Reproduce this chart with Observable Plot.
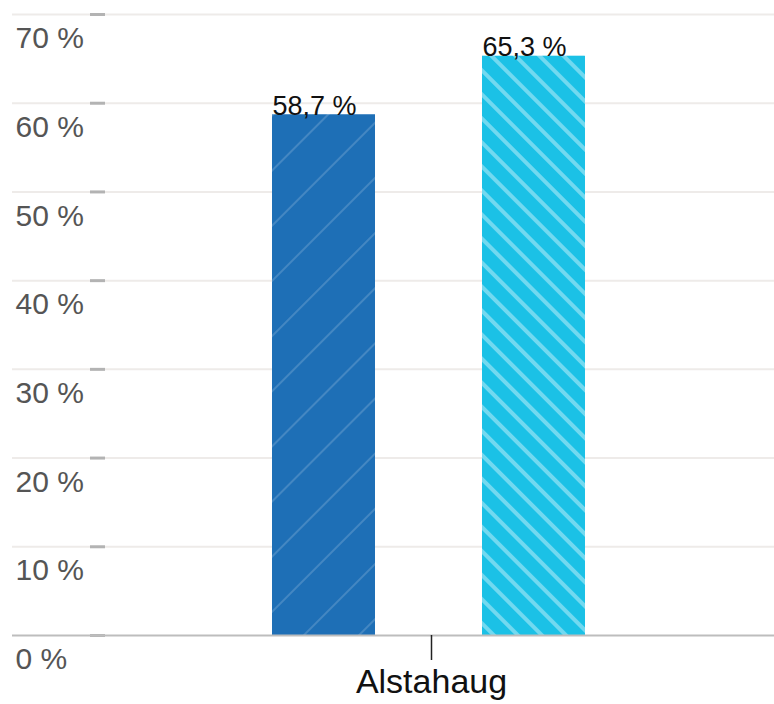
<!DOCTYPE html>
<html>
<head>
<meta charset="utf-8">
<script src="https://cdn.jsdelivr.net/npm/d3@7"></script>
<script src="https://cdn.jsdelivr.net/npm/@observablehq/plot@0.6"></script>
<style>
  html, body { margin: 0; padding: 0; background: #fff; }
  #chart svg { display: block; }
</style>
</head>
<body>
<div id="chart"></div>
<script>
// ---- Data ----
const categories = ["Alstahaug"];
const series = ["Serie 1", "Serie 2"];
const values = [58.7, 65.3];
const yTicks = [0, 10, 20, 30, 40, 50, 60, 70];
const seriesColors = ["#1e6fb6", "#1bc1e6"];

const data = series.map((s, i) => ({kommune: categories[0], serie: s, verdi: values[i]}));
const fmt = d => d.verdi.toFixed(1).replace(".", ",") + " %";

const W = 774, H = 704;
const mL = 88, mT = 14, mB = 69, mR = 0;

const chart = Plot.plot({
  width: W,
  height: H,
  marginLeft: mL,
  marginRight: mR,
  marginTop: mT,
  marginBottom: mB,
  style: {fontFamily: "'Liberation Sans', Arial, sans-serif", background: "#fff"},
  fx: {domain: categories, padding: 0, label: null},
  x: {domain: series, paddingInner: 0.5095, paddingOuter: 0.888, align: 0.493, axis: null},
  y: {domain: [0, 70], label: null},
  color: {domain: series, range: ["url(#hatchA)", "url(#hatchB)"]},
  marks: [
    // gridlines, extended into left margin
    Plot.ruleY(yTicks.filter(d => d > 0), {stroke: "#eeebe9", strokeWidth: 2, insetLeft: -76}),
    // small tick dashes
    Plot.ruleY(yTicks, {stroke: "#b3b3b3", strokeWidth: 3, insetLeft: 2, insetRight: W - mL - 17}),
    Plot.axisY({
      ticks: yTicks, tickSize: 0, tickPadding: 0,
      tickFormat: d => d + " %",
      textAnchor: "start", dx: -73, dy: 24,
      fontSize: 30, fill: "#555", label: null
    }),
    Plot.barY(data, {fx: "kommune", x: "serie", y: "verdi", fill: "serie"}),
    Plot.ruleY([0], {stroke: "#bdbdbd", strokeWidth: 2, insetLeft: -76}),
    Plot.text(data, {
      fx: "kommune", x: "serie", y: "verdi", text: fmt,
      textAnchor: "start", lineAnchor: "bottom", dx: -51.5, dy: 0,
      fontSize: 27, fill: "#111"
    }),
    Plot.axisFx({
      anchor: "bottom", tickSize: 25, tickPadding: 8,
      fontSize: 34, fill: "#111", stroke: "#222", strokeWidth: 1.5, label: null
    })
  ]
});

// Hatch patterns
const ns = "http://www.w3.org/2000/svg";
const defs = document.createElementNS(ns, "defs");
function hatch(id, bg, lineColor, spacing, lineW, angle) {
  const p = document.createElementNS(ns, "pattern");
  p.setAttribute("id", id);
  p.setAttribute("patternUnits", "userSpaceOnUse");
  p.setAttribute("width", spacing);
  p.setAttribute("height", spacing);
  p.setAttribute("patternTransform", `rotate(${angle})`);
  const r = document.createElementNS(ns, "rect");
  r.setAttribute("width", spacing); r.setAttribute("height", spacing); r.setAttribute("fill", bg);
  const l = document.createElementNS(ns, "rect");
  l.setAttribute("x", 0); l.setAttribute("width", lineW); l.setAttribute("height", spacing);
  l.setAttribute("fill", lineColor);
  p.appendChild(r); p.appendChild(l);
  defs.appendChild(p);
}
hatch("hatchA", seriesColors[0], "rgba(255,255,255,0.17)", 39, 2, 45);
hatch("hatchB", seriesColors[1], "rgba(255,255,255,0.38)", 17, 4, -45);
chart.insertBefore(defs, chart.firstChild);

document.getElementById("chart").appendChild(chart);
</script>
</body>
</html>
